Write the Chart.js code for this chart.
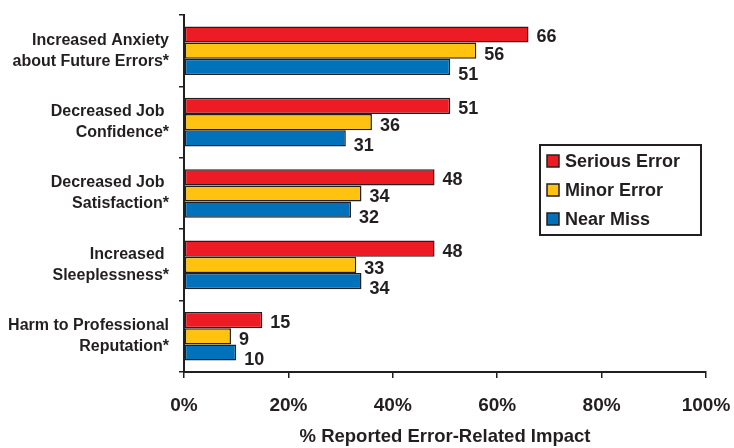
<!DOCTYPE html>
<html lang="en">
<head>
  <meta charset="UTF-8" />
  <title>Error-Related Impact</title>
  <script src="https://cdn.jsdelivr.net/npm/chart.js"></script>
  <style>
    html, body { margin: 0; padding: 0; background: #fff; }
    #wrap { width: 734px; height: 448px; position: relative; }
  </style>
</head>
<body>
  <div id="wrap"><canvas id="impactChart"></canvas></div>

  <script>
    // Data
    const categories = [
      ['Increased Anxiety', 'about Future Errors*'],
      ['Decreased Job ', 'Confidence*'],
      ['Decreased Job ', 'Satisfaction*'],
      ['Increased ', 'Sleeplessness*'],
      ['Harm to Professional', 'Reputation*']
    ];
    const seriousError = [66, 51, 48, 48, 15];
    const minorError = [56, 36, 34, 33, 9];
    const nearMiss = [51, 31, 32, 34, 10];
    const xTicks = [0, 20, 40, 60, 80, 100];

    const ink = '#231f20';
    const fontName = '"Liberation Sans", Arial, sans-serif';

    // value labels at the end of each bar, nudged a bit down-right
    const valueLabels = {
      id: 'valueLabels',
      afterDatasetsDraw(chart) {
        const ctx = chart.ctx;
        const dy = [3, 4, 8];
        ctx.save();
        ctx.font = 'bold 18px ' + fontName;
        ctx.fillStyle = ink;
        ctx.textAlign = 'left';
        ctx.textBaseline = 'middle';
        chart.data.datasets.forEach((ds, i) => {
          chart.getDatasetMeta(i).data.forEach((bar, j) => {
            ctx.fillText(ds.data[j], bar.x + 8, bar.y + dy[i]);
          });
        });
        ctx.restore();
      }
    };

    // boxed legend sitting inside the plot area
    const boxLegend = {
      id: 'boxLegend',
      afterDraw(chart) {
        const ctx = chart.ctx;
        const x = 540, y = 145, w = 161, h = 90;
        ctx.save();
        ctx.fillStyle = '#fff';
        ctx.fillRect(x, y, w, h);
        ctx.strokeStyle = ink;
        ctx.lineWidth = 2;
        ctx.strokeRect(x, y, w, h);
        ctx.font = 'bold 18px ' + fontName;
        ctx.textBaseline = 'middle';
        chart.data.datasets.forEach((ds, i) => {
          const cy = y + 16 + i * 29;
          ctx.fillStyle = ds.backgroundColor;
          ctx.fillRect(x + 7, cy - 6, 12, 12);
          ctx.lineWidth = 1.5;
          ctx.strokeStyle = ink;
          ctx.strokeRect(x + 7, cy - 6, 12, 12);
          ctx.fillStyle = ink;
          ctx.fillText(ds.label, x + 25, cy + 1);
        });
        ctx.restore();
      }
    };

    new Chart(document.getElementById('impactChart'), {
      type: 'bar',
      data: {
        labels: categories,
        datasets: [
          { label: 'Serious Error', data: seriousError, backgroundColor: '#ed1c24' },
          { label: 'Minor Error', data: minorError, backgroundColor: '#ffc20e' },
          { label: 'Near Miss', data: nearMiss, backgroundColor: '#0072bc' }
        ]
      },
      options: {
        indexAxis: 'y',
        responsive: true,
        maintainAspectRatio: false,
        animation: false,
        datasets: {
          bar: {
            borderColor: ink,
            borderWidth: 1.5,
            borderSkipped: false,
            categoryPercentage: 0.68,
            barPercentage: 1
          }
        },
        layout: { padding: { left: 0, right: 28, top: 15, bottom: 0 } },
        plugins: {
          legend: { display: false },
          tooltip: { enabled: false }
        },
        scales: {
          x: {
            min: 0,
            max: 100,
            afterBuildTicks: axis => { axis.ticks = xTicks.map(v => ({ value: v })); },
            afterFit: axis => {
              axis.height = 76;
              axis.paddingLeft = 0;
              axis.paddingRight = 0;
            },
            grid: { drawOnChartArea: false, drawTicks: true, tickLength: 6, color: ink, lineWidth: 1.5 },
            border: { color: ink, width: 2 },
            ticks: {
              color: ink,
              padding: 16,
              maxRotation: 0,
              font: { family: fontName, size: 19, weight: 'bold' },
              callback: v => v + '%'
            },
            title: {
              display: true,
              text: '% Reported Error-Related Impact',
              color: ink,
              padding: { top: 4, bottom: 0 },
              font: { family: fontName, size: 18.5, weight: 'bold' }
            }
          },
          y: {
            afterFit: axis => {
              axis.width = 184;
              axis.paddingTop = 0;
              axis.paddingBottom = 0;
            },
            grid: { drawOnChartArea: false, drawTicks: true, tickLength: 5, color: ink, lineWidth: 1.5, offset: true },
            border: { color: ink, width: 2 },
            ticks: {
              color: ink,
              padding: 10,
              font: { family: fontName, size: 16, weight: 'bold', lineHeight: 1.32 }
            }
          }
        }
      },
      plugins: [valueLabels, boxLegend]
    });
  </script>
</body>
</html>
